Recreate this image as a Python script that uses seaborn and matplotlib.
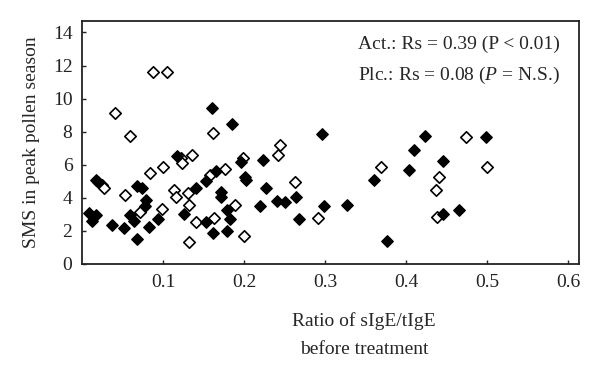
import numpy as np
import pandas as pd
import matplotlib
matplotlib.use("Agg")
import matplotlib.pyplot as plt
import seaborn as sns

# Active group (filled diamonds)
act_x = [0.009, 0.012, 0.017, 0.017, 0.020, 0.037, 0.052, 0.059, 0.064, 0.068,
         0.074, 0.068, 0.079, 0.078, 0.083, 0.094, 0.117, 0.126, 0.141, 0.153,
         0.165, 0.153, 0.162, 0.172, 0.172, 0.179, 0.183, 0.179, 0.196, 0.160,
         0.185, 0.201, 0.202, 0.223, 0.227, 0.220, 0.241, 0.251, 0.264, 0.268,
         0.296, 0.299, 0.327, 0.360, 0.377, 0.404, 0.410, 0.423, 0.446, 0.446,
         0.465, 0.499]
act_y = [3.09, 2.62, 2.93, 5.10, 4.96, 2.38, 2.17, 2.97, 2.57, 4.70,
         4.60, 1.53, 3.85, 3.49, 2.24, 2.69, 6.55, 2.99, 4.62, 5.04,
         5.62, 2.55, 1.88, 4.35, 4.04, 3.24, 2.71, 1.98, 6.14, 9.45,
         8.44, 5.24, 5.06, 6.31, 4.58, 3.49, 3.83, 3.73, 4.06, 2.69,
         7.88, 3.49, 3.59, 5.10, 1.36, 5.68, 6.91, 7.71, 6.20, 3.03,
         3.25, 7.65]

# Placebo group (open diamonds)
plc_x = [0.024, 0.027, 0.041, 0.059, 0.053, 0.072, 0.084, 0.100, 0.098, 0.087,
         0.105, 0.113, 0.116, 0.122, 0.123, 0.135, 0.131, 0.132, 0.141, 0.132,
         0.158, 0.163, 0.176, 0.161, 0.189, 0.199, 0.200, 0.242, 0.244, 0.263,
         0.291, 0.369, 0.441, 0.437, 0.438, 0.474, 0.500]
plc_y = [4.75, 4.60, 9.12, 7.73, 4.19, 3.15, 5.50, 5.88, 3.29, 11.62,
         11.58, 4.48, 4.02, 6.41, 6.08, 6.59, 4.26, 3.54, 2.52, 1.33,
         5.40, 2.80, 5.75, 7.90, 3.55, 6.43, 1.68, 6.57, 7.21, 4.98,
         2.75, 5.84, 5.26, 4.46, 2.83, 7.65, 5.87]

x_ticks = [0.1, 0.2, 0.3, 0.4, 0.5, 0.6]
y_ticks = [0, 2, 4, 6, 8, 10, 12, 14]

sns.set_style("ticks")
plt.rcParams['font.family'] = ['Liberation Serif', 'DejaVu Serif']
plt.rcParams['mathtext.fontset'] = 'custom'
plt.rcParams['mathtext.rm'] = 'Liberation Serif'
plt.rcParams['mathtext.it'] = 'Liberation Serif:italic'

act = pd.DataFrame({'x': act_x, 'y': act_y})
plc = pd.DataFrame({'x': plc_x, 'y': plc_y})

fig = plt.figure(figsize=(6, 3.67), dpi=100)
ax = fig.add_axes([0.137, 0.281, 0.828, 0.662])

sns.scatterplot(data=plc, x='x', y='y', marker='D', s=34, facecolor='white',
                edgecolor='black', linewidth=1.2, ax=ax, zorder=3)
sns.scatterplot(data=act, x='x', y='y', marker='D', s=34, color='black',
                edgecolor='black', linewidth=1.0, ax=ax, zorder=4)

ax.set_xlim(0, 0.6136)
ax.set_ylim(0, 14.7)
ax.set_xticks(x_ticks)
ax.set_xticklabels(['0.1', '0.2', '0.3', '0.4', '0.5', '0.6'])
ax.set_yticks(y_ticks)
ax.tick_params(direction='in', length=3, width=1, labelsize=14, pad=7, colors='#222222')
for sp in ax.spines.values():
    sp.set_linewidth(1.3)
    sp.set_color('#222222')

ax.set_xlabel('Ratio of sIgE/tIgE\nbefore treatment', fontsize=14, linespacing=1.8)
ax.xaxis.set_label_coords(0.567, -0.2, transform=ax.transAxes)
ax.xaxis.label.set_verticalalignment('top')
ax.set_ylabel('SMS in peak pollen season', fontsize=14, labelpad=9)

ax.text(0.962, 0.905, 'Act.: Rs = 0.39 (P < 0.01)', transform=ax.transAxes,
        ha='right', va='center', fontsize=14)
ax.text(0.962, 0.774, r'Plc.: Rs = 0.08 ($P$ = N.S.)', transform=ax.transAxes,
        ha='right', va='center', fontsize=14)

fig.savefig('out.png', dpi=100)
